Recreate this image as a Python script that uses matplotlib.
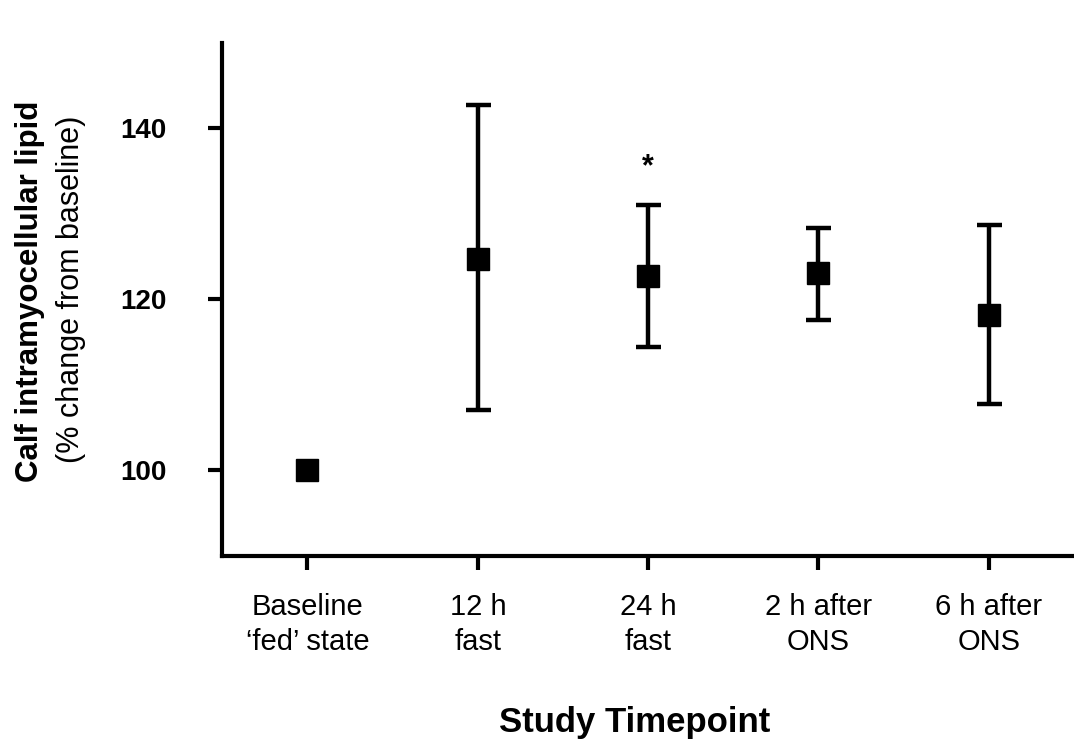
import matplotlib.pyplot as plt
import numpy as np

plt.rcParams['font.family'] = ['Liberation Sans', 'DejaVu Sans']

# data
labels = ['Baseline\n\u2018fed\u2019 state', '12 h\nfast', '24 h\nfast', '2 h after\nONS', '6 h after\nONS']
means = [100.0, 124.7, 122.7, 123.1, 118.2]
upper = [100.0, 142.8, 131.1, 128.4, 128.7]
lower = [100.0, 107.1, 114.4, 117.6, 107.8]

x = np.arange(len(labels))
err = [np.array(means) - np.array(lower), np.array(upper) - np.array(means)]

fig = plt.figure(figsize=(10.74, 7.42), dpi=100)
ax = fig.add_axes([0.207, 0.251, 0.793, 0.691])

# error bars (baseline has none)
ax.errorbar(x[1:], means[1:], yerr=[err[0][1:], err[1][1:]], fmt='none',
            ecolor='black', elinewidth=3.2, capsize=9, capthick=3.2, zorder=2)
ax.plot(x, means, 's', color='black', markersize=16, zorder=3)

# significance marker
ax.text(x[2], 135.5, '*', ha='center', va='center', fontsize=22, fontweight='bold')

ax.set_xlim(-0.5, 4.5)
ax.set_ylim(90, 150)
ax.set_yticks([100, 120, 140])
ax.set_xticks(x)
ax.set_xticklabels(labels, fontsize=21, linespacing=1.3)
for t in ax.get_yticklabels():
    t.set_fontweight('bold')
    t.set_fontsize(20)
ax.tick_params(axis='both', direction='out', length=10, width=3)
ax.tick_params(axis='x', pad=17)
ax.tick_params(axis='y', pad=30)

for s in ['top', 'right']:
    ax.spines[s].set_visible(False)
for s in ['left', 'bottom']:
    ax.spines[s].set_linewidth(3)

fig.text(0.028, 0.608, 'Calf intramyocellular lipid', rotation=90, ha='center', va='center',
         fontsize=22.5, fontweight='bold')
fig.text(0.066, 0.610, '(% change from baseline)', rotation=90, ha='center', va='center',
         fontsize=22)
fig.text(0.591, 0.026, 'Study Timepoint', ha='center', va='center', fontsize=25, fontweight='bold')

fig.savefig('out.png', dpi=100)
